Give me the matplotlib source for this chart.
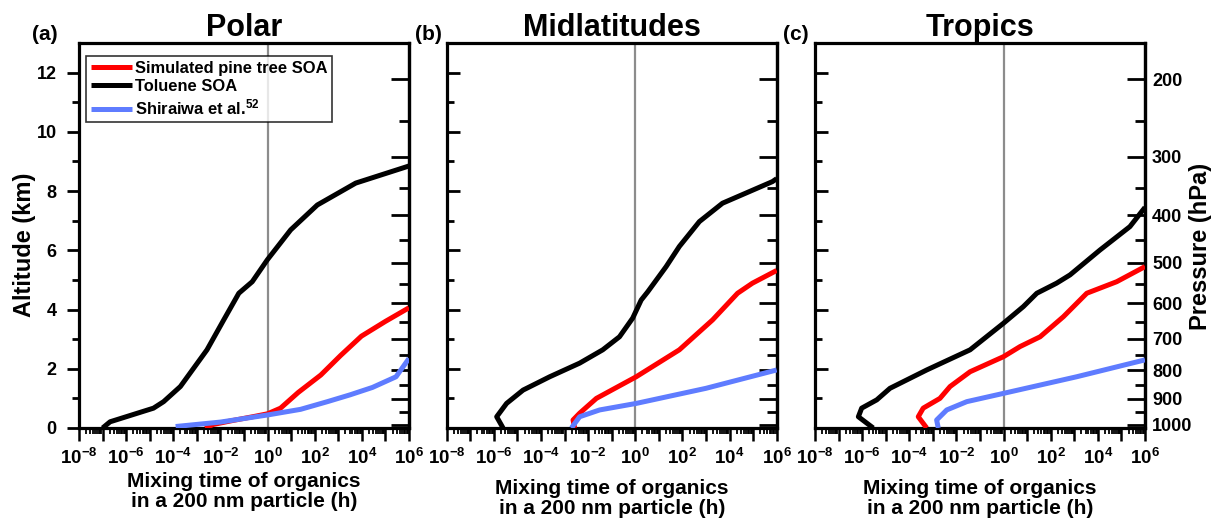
import numpy as np
import matplotlib
matplotlib.use('Agg')
import matplotlib.pyplot as plt
from matplotlib.ticker import FixedLocator, FuncFormatter, LogLocator, NullFormatter

plt.rcParams['font.family'] = ['Liberation Sans', 'DejaVu Sans']
plt.rcParams['font.weight'] = 'bold'
plt.rcParams['mathtext.fontset'] = 'custom'
plt.rcParams['mathtext.rm'] = 'Liberation Sans:bold'
plt.rcParams['mathtext.bf'] = 'Liberation Sans:bold'
plt.rcParams['mathtext.it'] = 'Liberation Sans:bold:italic'

# ---------------- data (log10 of mixing time in h, altitude in km) ----------------
panel_titles = ['Polar', 'Midlatitudes', 'Tropics']
panel_tags = ['(a)', '(b)', '(c)']
series_labels = ['Simulated pine tree SOA', 'Toluene SOA', r'Shiraiwa et al.$^{52}$']
series_colors = ['#ff0000', '#000000', '#5f7cff']

# Polar
polar_red_logt = [-2.65, -2.3, -1.5, -0.5, 0.0, 0.55, 1.3, 2.26, 3.1, 3.98, 5.0, 6.0]
polar_red_z = [0.0, 0.12, 0.25, 0.4, 0.48, 0.67, 1.2, 1.79, 2.45, 3.1, 3.6, 4.06]
polar_black_logt = [-7.0, -6.68, -4.84, -4.41, -3.70, -2.57, -1.86, -1.22, -0.65, -0.01,
                    0.98, 2.11, 3.74, 6.01]
polar_black_z = [0.0, 0.21, 0.67, 0.89, 1.40, 2.64, 3.65, 4.55, 4.94, 5.68,
                 6.69, 7.53, 8.27, 8.85]
polar_blue_logt = [-3.9, -2.0, -1.0, 0.0, 1.4, 2.54, 3.5, 4.45, 5.45, 6.0]
polar_blue_z = [0.05, 0.2, 0.32, 0.44, 0.63, 0.89, 1.12, 1.37, 1.73, 2.35]

# Midlatitudes
mid_red_logt = [-2.57, -2.64, -2.36, -1.65, 0.04, 1.87, 3.28, 4.34, 4.97, 6.0]
mid_red_z = [0.0, 0.27, 0.50, 1.0, 1.73, 2.64, 3.65, 4.55, 4.89, 5.32]
mid_black_logt = [-5.61, -5.88, -5.46, -4.76, -3.63, -2.36, -1.38, -0.67, -0.11, 0.25,
                  0.53, 1.31, 1.87, 2.72, 3.70, 5.82, 6.0]
mid_black_z = [0.0, 0.38, 0.83, 1.28, 1.73, 2.19, 2.64, 3.08, 3.71, 4.32,
               4.60, 5.45, 6.13, 6.97, 7.59, 8.32, 8.42]
mid_blue_logt = [-2.71, -2.36, -1.51, 0.04, 3.0, 6.0]
mid_blue_z = [0.0, 0.38, 0.61, 0.83, 1.34, 1.96]

# Tropics
trop_red_logt = [-3.26, -3.62, -3.41, -2.70, -2.27, -1.42, 0.0, 0.70, 1.55, 2.54,
                 3.53, 4.80, 6.0]
trop_red_z = [0.0, 0.38, 0.67, 1.0, 1.40, 1.90, 2.41, 2.75, 3.08, 3.76,
              4.55, 4.94, 5.45]
trop_black_logt = [-5.53, -6.16, -6.02, -5.38, -4.82, -3.26, -1.42, 0.0, 0.84, 1.41,
                   2.25, 2.82, 4.09, 5.36, 6.0]
trop_black_z = [0.0, 0.38, 0.67, 0.95, 1.34, 1.96, 2.64, 3.54, 4.10, 4.55,
                4.89, 5.17, 6.01, 6.80, 7.45]
trop_blue_logt = [-2.77, -2.84, -2.41, -1.56, 0.0, 3.10, 6.0]
trop_blue_z = [0.0, 0.27, 0.61, 0.89, 1.17, 1.73, 2.30]

panels = [
    [(polar_red_logt, polar_red_z), (polar_black_logt, polar_black_z), (polar_blue_logt, polar_blue_z)],
    [(mid_red_logt, mid_red_z), (mid_black_logt, mid_black_z), (mid_blue_logt, mid_blue_z)],
    [(trop_red_logt, trop_red_z), (trop_black_logt, trop_black_z), (trop_blue_logt, trop_blue_z)],
]

pressure_major = [200, 300, 400, 500, 600, 700, 800, 900, 1000]
pressure_minor = [250, 350, 450, 550, 650, 750, 850, 950]


# standard atmosphere: pressure (hPa) <-> altitude (km)
def p2z(p):
    p = np.asarray(p, dtype=float)
    return 44.3308 * (1 - (np.clip(p, 1e-3, None) / 1013.25) ** 0.190263)


def z2p(z):
    z = np.asarray(z, dtype=float)
    return 1013.25 * np.clip(1 - z / 44.3308, 1e-6, None) ** (1 / 0.190263)


def xfmt(v, pos):
    k = int(round(np.log10(v)))
    return r'$10^{%d}$' % k if k % 2 == 0 else ''


# ---------------- figure ----------------
W, H = 1214, 523
fig = plt.figure(figsize=(W / 100, H / 100), dpi=100)

lefts = [79, 446.7, 815]
tag_x = [32, 415, 783]
ax_w = 330
ax_bot, ax_top = 428, 43
ax_h = ax_bot - ax_top

for i in range(3):
    ax = fig.add_axes([lefts[i] / W, 1 - ax_bot / H, ax_w / W, ax_h / H])

    ax.axvline(1, color='#8c8c8c', lw=1.6, zorder=1)
    for (lt, z), lab, col in zip(panels[i], series_labels, series_colors):
        ax.plot(10 ** np.array(lt), z, color=col, lw=3.6, label=lab,
                solid_capstyle='butt', zorder=3)

    ax.set_xscale('log')
    ax.set_xlim(1e-8, 1e6)
    ax.set_ylim(0, 13)

    for s in ax.spines.values():
        s.set_linewidth(2.3)

    ax.xaxis.set_major_locator(FixedLocator([10.0 ** k for k in range(-8, 7)]))
    ax.xaxis.set_major_formatter(FuncFormatter(xfmt))
    ax.xaxis.set_minor_locator(LogLocator(base=10, subs=np.arange(2, 10), numticks=30))
    ax.xaxis.set_minor_formatter(NullFormatter())
    ax.tick_params(axis='x', which='major', direction='out', length=9, width=1.8,
                   labelsize=13.5, pad=5)
    ax.tick_params(axis='x', which='minor', direction='out', length=4, width=1.3)

    ax.set_yticks([0, 2, 4, 6, 8, 10, 12])
    ax.set_yticks([1, 3, 5, 7, 9, 11], minor=True)
    if i == 0:
        ax.tick_params(axis='y', which='major', direction='out', length=9, width=2,
                       labelsize=13, pad=7)
        ax.tick_params(axis='y', which='minor', direction='out', length=5, width=2)
    else:
        ax.tick_params(axis='y', which='major', direction='in', length=9, width=2,
                       labelleft=False)
        ax.tick_params(axis='y', which='minor', direction='in', length=5, width=2)

    ax.set_xlabel('Mixing time of organics\nin a 200 nm particle (h)',
                  fontsize=15, fontweight='bold', linespacing=1.1,
                  labelpad=3 if i == 0 else 8)
    ax.set_title(panel_titles[i], fontsize=22, fontweight='bold', pad=3)

    sec = ax.secondary_yaxis('right', functions=(z2p, p2z))
    sec.spines['right'].set_linewidth(2.3)
    sec.yaxis.set_major_locator(FixedLocator(pressure_major))
    sec.yaxis.set_minor_locator(FixedLocator(pressure_minor))
    sec.yaxis.set_minor_formatter(NullFormatter())
    sec.tick_params(axis='y', which='major', direction='in', length=13, width=2,
                    labelsize=13, pad=5)
    sec.tick_params(axis='y', which='minor', direction='in', length=7, width=2)
    if i != 2:
        sec.tick_params(axis='y', labelright=False)

    fig.text(tag_x[i] / W, 1 - 40 / H, panel_tags[i], fontsize=15,
             fontweight='bold', ha='left', va='baseline')

    if i == 0:
        leg = ax.legend(loc='upper left', bbox_to_anchor=(7 / ax_w, 1 - 13 / ax_h),
                        borderaxespad=0, fontsize=11.9, frameon=True, fancybox=False,
                        edgecolor='black', handlelength=2.5, handletextpad=0.15,
                        labelspacing=0.2, borderpad=0.3)
        leg.get_frame().set_linewidth(1.2)
        for t in leg.get_texts():
            t.set_fontweight('bold')

# axis titles on the outer sides
fig.text(25 / W, 1 - 245 / H, 'Altitude (km)', rotation=90, fontsize=17,
         fontweight='bold', ha='center', va='center')
fig.text(1200 / W, 1 - 246 / H, 'Pressure (hPa)', rotation=90, fontsize=17,
         fontweight='bold', ha='center', va='center')

fig.savefig('out.png', dpi=100)
